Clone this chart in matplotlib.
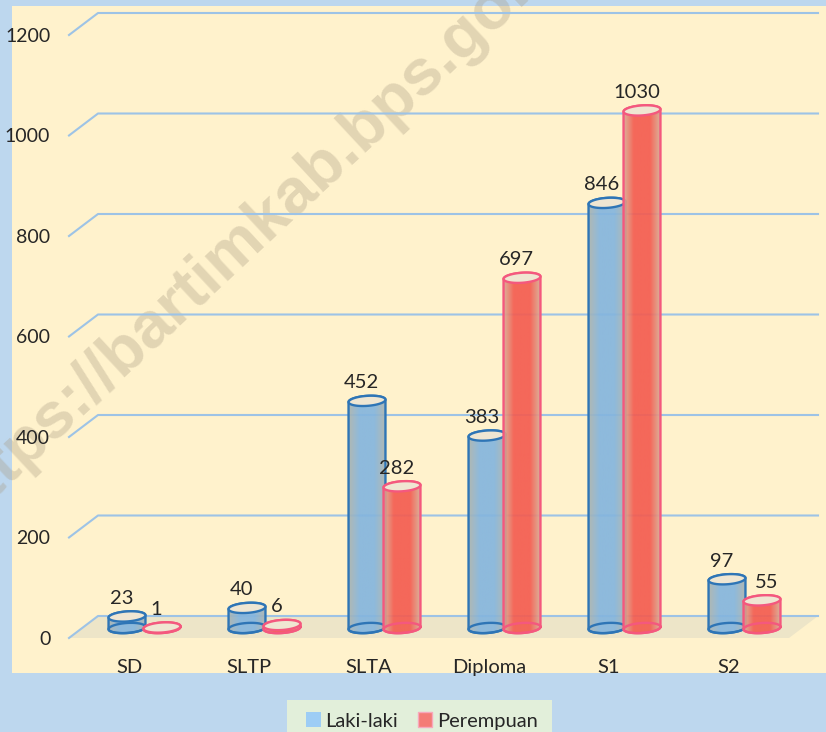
import numpy as np
import matplotlib
matplotlib.use('Agg')
import matplotlib.pyplot as plt
from matplotlib.colors import LinearSegmentedColormap
from matplotlib.patches import Patch, Polygon, Rectangle

categories = ['SD', 'SLTP', 'SLTA', 'Diploma', 'S1', 'S2']
laki_laki = [23, 40, 452, 383, 846, 97]
perempuan = [1, 6, 282, 697, 1030, 55]
y_ticks = [0, 200, 400, 600, 800, 1000, 1200]

plt.rcParams['font.family'] = ['Lato', 'DejaVu Sans']

# one category is 120 px wide, 1200 units are 603 px tall
PX_X = 1 / 120.0
PX_Y = 1200 / 603.0
DEPTH_X = 29 * PX_X
DEPTH_Y = 22 * PX_Y
TEXT = '#262626'
FONT = 14.5


def ellipse(cx, cy, t0=0.0, t1=2 * np.pi, n=60):
    # slightly tilted ellipse, worked out in pixels then put back in data units
    t = np.linspace(t0, t1, n)
    px = 18.5 * np.cos(t)
    py = 5.0 * np.sin(t)
    tilt = np.radians(4)
    xr = px * np.cos(tilt) - py * np.sin(tilt)
    yr = px * np.sin(tilt) + py * np.cos(tilt)
    return cx + xr * PX_X, cy + yr * PX_Y


def cylinder(ax, cx, value, cmap, edge, z):
    base = 10 * PX_Y
    top = base + value
    xb, yb = ellipse(cx, base, np.pi, 2 * np.pi)
    xt, yt = ellipse(cx, top, 0, np.pi)
    body = Polygon(np.column_stack([np.r_[xb, xt], np.r_[yb, yt]]), closed=True,
                   fc='none', ec=edge, lw=1.7, zorder=z + 0.2, clip_on=False)
    ax.add_patch(body)
    grad = np.linspace(0, 1, 64).reshape(1, -1)
    im = ax.imshow(grad, cmap=cmap, aspect='auto', alpha=0.92, zorder=z,
                   extent=(cx - 19 * PX_X, cx + 19 * PX_X, 0, top + 8 * PX_Y))
    im.set_clip_path(body)
    # bottom ring shows through the body
    xe, ye = ellipse(cx, base)
    ax.plot(xe, ye, color=edge, lw=1.7, zorder=z + 0.3, clip_on=False)
    xe, ye = ellipse(cx, top)
    ax.fill(xe, ye, fc='#EFE6D2', ec=edge, lw=1.7, zorder=z + 0.4, clip_on=False)


fig = plt.figure(figsize=(8.26, 7.32), dpi=100, facecolor='#BDD7EE')
ax = fig.add_axes([69 / 826, (732 - 638) / 732, 720 / 826, 603 / 732])
ax.patch.set_visible(False)

# plot area and watermark sit behind everything
fig.add_artist(Rectangle((12 / 826, (732 - 673) / 732), 814 / 826, 667 / 732,
                         transform=fig.transFigure, fc='#FFF2CC', ec='none', zorder=-3))
fig.text(268 / 826, 1 - 240 / 732, 'https://bartimkab.bps.go.id', fontsize=47,
         family='Liberation Sans', weight='bold', color='#A89A82', alpha=0.33,
         rotation=43, ha='center', va='baseline', rotation_mode='anchor', zorder=-2)

# legend box runs off the bottom of the picture
fig.add_artist(Rectangle((287 / 826, 0), 265 / 826, 32 / 732,
                         transform=fig.transFigure, fc='#E2EFDA', ec='none', zorder=-1))

# floor
ax.add_patch(Polygon([(-0.5, 0), (-0.5 + DEPTH_X, DEPTH_Y), (5.5 + DEPTH_X, DEPTH_Y), (5.5, 0)],
                     closed=True, fc='#EDE5C8', ec='none', zorder=1, clip_on=False))

# walls
for v in y_ticks:
    ax.plot([-0.5, -0.5 + DEPTH_X, 5.5 + DEPTH_X], [v, v + DEPTH_Y, v + DEPTH_Y],
            color='#9DC3E6', lw=1.5, zorder=2, clip_on=False)

blue = LinearSegmentedColormap.from_list('b', [(0, '#ABB3B0'), (0.3, '#84B5DE'), (0.7, '#84B5DE'), (1, '#ABB3B0')])
red = LinearSegmentedColormap.from_list('r', [(0, '#D8AE98'), (0.28, '#F45C50'), (0.72, '#F45C50'), (1, '#D8AE98')])

for i, cat in enumerate(categories):
    cx = i + 15.5 * PX_X
    left = cx - 17.5 * PX_X
    right = cx + 17.5 * PX_X
    cylinder(ax, left, laki_laki[i], blue, '#2E75B6', 3)
    cylinder(ax, right, perempuan[i], red, '#F4587E', 4)
    ax.annotate(str(laki_laki[i]), (left, laki_laki[i] + 10 * PX_Y), xytext=(-4, 13),
                textcoords='offset points', ha='center', va='center', fontsize=FONT,
                color=TEXT, zorder=6, annotation_clip=False)
    # S2 label sits to the right of its bar
    dx = 3.6 if cat == 'S2' else -4
    ax.annotate(str(perempuan[i]), (right, perempuan[i] + 10 * PX_Y), xytext=(dx, 13),
                textcoords='offset points', ha='center', va='center', fontsize=FONT,
                color=TEXT, zorder=6, annotation_clip=False)

ax.set_xlim(-0.5, 5.5)
ax.set_ylim(0, 1200)
ax.set_xticks(range(len(categories)))
ax.set_xticklabels(categories)
ax.set_yticks(y_ticks)
ax.tick_params(axis='y', length=0, pad=13.5, labelsize=14, labelcolor=TEXT)
ax.tick_params(axis='x', length=0, pad=15, labelsize=FONT, labelcolor=TEXT)
for s in ax.spines.values():
    s.set_visible(False)

handles = [Patch(fc='#9DCDF5', ec='none', label='Laki-laki'),
           Patch(fc='#F47C76', ec='#F8A8BC', label='Perempuan')]
fig.legend(handles=handles, loc='center', bbox_to_anchor=(422 / 826, 1 - 721 / 732), ncol=2,
           frameon=False, fontsize=FONT, handlelength=0.72, handleheight=0.72, handletextpad=0.25,
           columnspacing=0.95, labelcolor=TEXT, borderpad=0, borderaxespad=0)

fig.savefig('out.png', dpi=100, facecolor=fig.get_facecolor())
